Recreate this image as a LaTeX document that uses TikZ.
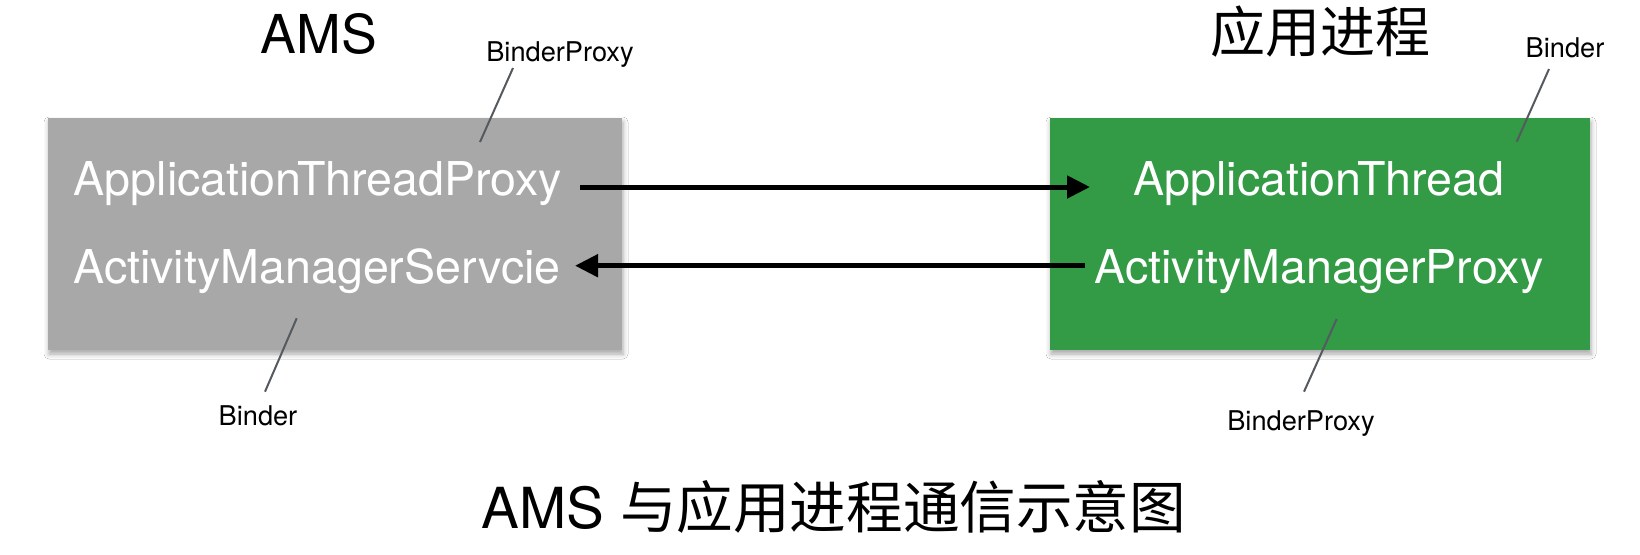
\documentclass[tikz,border=0pt]{standalone}
\usepackage{fontspec}
\setmainfont{TeX Gyre Heros}
\newfontfamily\cjk{Noto Sans CJK SC}
\usetikzlibrary{arrows.meta,shadows.blur}
\definecolor{amsgray}{HTML}{A7A8A7}
\definecolor{appgreen}{HTML}{339A45}
\definecolor{leader}{HTML}{555A60}
\tikzset{
  procbox/.style={rectangle, inner sep=0pt, draw=none,
    minimum height=116pt,
    blur shadow={shadow xshift=0.5pt, shadow yshift=-2pt, shadow blur radius=2.5pt, shadow opacity=35}},
  boxtext/.style={anchor=base, inner sep=0pt, text=white, font=\fontsize{23.3}{26}\selectfont},
  title/.style={anchor=base, inner sep=0pt, text=black},
  tag/.style={anchor=base, inner sep=0pt, text=black, font=\fontsize{13.6}{15}\selectfont},
  leaderline/.style={draw=leader, line width=1pt},
  msg/.style={draw=black, line width=2.5pt, -{Triangle[length=11.5pt,width=11pt]}}
}
\begin{document}
\begin{tikzpicture}[x=0.5pt,y=-0.5pt]
\useasboundingbox[fill=white] (0,0) rectangle (1640,554);
% boxes
\node[procbox, fill=amsgray, minimum width=287pt] (ams) at (335,234) {};
\node[procbox, fill=appgreen, minimum width=270pt] (app) at (1320,234) {};
% titles
\node[title, font=\fontsize{26.8}{30}\selectfont] (amst) at (318.7,53.3) {AMS};
\node[title, font=\cjk\fontsize{27.5}{30}\selectfont] (appt) at (1320,52) {应用进程};
% box texts
\node[boxtext] (atp) at (318,195) {ApplicationThreadProxy};
\node[boxtext] (ams2) at (317,283) {ActivityManagerServcie};
\node[boxtext] (at) at (1319,195) {ApplicationThread};
\node[boxtext] (amp) at (1319,283) {ActivityManagerProxy};
% tags
\node[tag] (t1) at (560,61.7) {BinderProxy};
\node[tag] (t2) at (1565,57.3) {Binder};
\node[tag] (t3) at (258,425) {Binder};
\node[tag] (t4) at (1301,430.7) {BinderProxy};
% leader lines
\coordinate (l1a) at (513,68);   \coordinate (l1b) at (480,142);
\coordinate (l2a) at (1549,69);  \coordinate (l2b) at (1516.7,141.7);
\coordinate (l3a) at (296.7,318.3); \coordinate (l3b) at (265,391.7);
\coordinate (l4a) at (1336.7,319);  \coordinate (l4b) at (1304,391.7);
\draw[leaderline] (l1a) -- (l1b);
\draw[leaderline] (l2a) -- (l2b);
\draw[leaderline] (l3a) -- (l3b);
\draw[leaderline] (l4a) -- (l4b);
% arrows
\coordinate (a1s) at (580,187); \coordinate (a1e) at (1090,187);
\coordinate (a2s) at (1085,265.7); \coordinate (a2e) at (575,265.7);
\draw[msg] (a1s) -- (a1e);
\draw[msg] (a2s) -- (a2e);
% caption
\node[title, font=\fontsize{28.3}{32}\selectfont] (cap) at (834,528) {AMS {\cjk 与应用进程通信示意图}};
\end{tikzpicture}
\end{document}
